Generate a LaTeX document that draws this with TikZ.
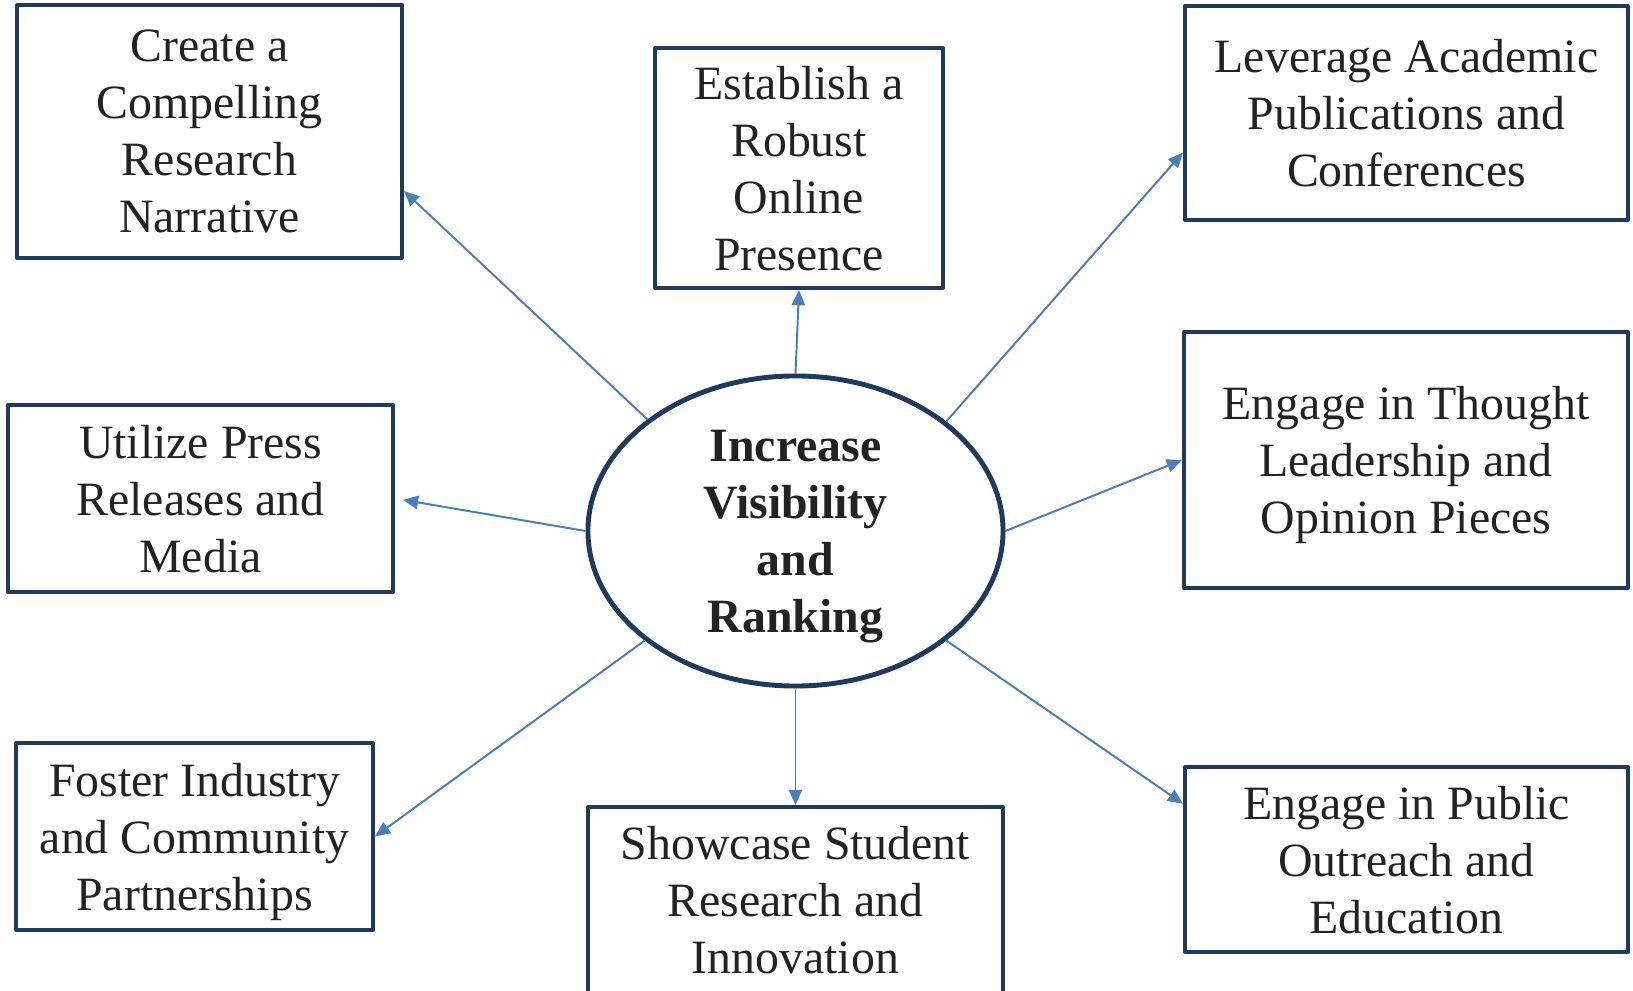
\documentclass[tikz,border=0pt]{standalone}
\usepackage{fontspec}
\setmainfont{Liberation Serif}
\usetikzlibrary{arrows.meta,shapes.geometric}
\definecolor{boxline}{HTML}{1F3A5C}
\definecolor{arrowblue}{HTML}{4A7EBB}
\definecolor{textgray}{HTML}{222222}

\begin{document}
\begin{tikzpicture}[x=0.025cm,y=-0.025cm,
  box/.style={draw=boxline,line width=2.8pt,line join=round,fill=white,align=center,inner sep=0pt,text depth=-2.4pt,text=textgray,font=\fontsize{34}{40.5}\selectfont},
  hub/.style={ellipse,draw=boxline,line width=3.5pt,align=center,inner sep=0pt,text depth=-2.4pt,minimum width=10.375cm,minimum height=7.75cm,text=textgray,font=\fontsize{34}{40.5}\selectfont\bfseries},
  link/.style={-{Triangle[length=0.38cm,width=0.33cm]},draw=arrowblue,line width=1.4pt}]
\useasboundingbox (0,0) rectangle (1633,991);

\node[hub] (goal) at (795.5,531){Increase\\Visibility\\and\\Ranking};

\node[box,minimum width=9.625cm,minimum height=6.325cm] (narrative) at (209.5,131.5){Create a\\Compelling\\Research\\Narrative};
\node[box,minimum width=7.2cm,minimum height=6cm] (online) at (799,168){Establish a\\Robust\\Online\\Presence};
\node[box,minimum width=11.075cm,minimum height=5.35cm] (publications) at (1406.5,113){Leverage Academic\\Publications and\\Conferences};
\node[box,minimum width=11.1cm,minimum height=6.4cm] (thought) at (1406,460){Engage in Thought\\Leadership and\\Opinion Pieces};

\node[box,minimum width=9.625cm,minimum height=4.675cm] (press) at (200.5,498.5){Utilize Press\\Releases and\\Media};
\node[box,minimum width=8.925cm,minimum height=4.675cm] (industry) at (194.5,836.5){Foster Industry\\and Community\\Partnerships};
\node[box,minimum width=10.375cm,minimum height=4.65cm] (student) at (795.5,900){Showcase Student\\Research and\\Innovation};
\node[box,minimum width=11.075cm,minimum height=4.625cm] (outreach) at (1406.5,859.5){Engage in Public\\Outreach and\\Education};

\draw[link] (goal.143.3) -- (narrative.-17.7);
\draw[link] (goal.north) -- (online.south);
\draw[link] (goal.36.7) -- (publications.190.2);
\draw[link] (goal.east) -- (thought.west);

\draw[link,shorten >=0.2cm] (goal.west) -- (press.east);
\draw[link] (goal.216.7) -- (industry.east);
\draw[link] (goal.south) -- (student.north);
\draw[link] (goal.-36.7) -- (outreach.166.2);
\end{tikzpicture}
\end{document}
